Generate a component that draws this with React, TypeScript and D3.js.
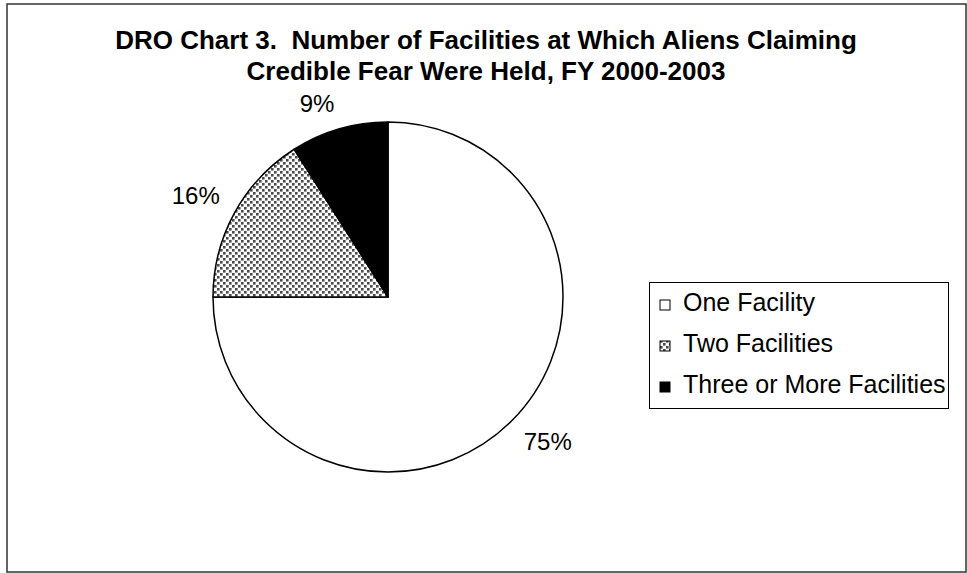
import { useEffect, useRef } from "react";
import * as d3 from "d3";

const categories = ["One Facility", "Two Facilities", "Three or More Facilities"];
const shares = [75, 16, 9];
const titleLines = [
  "DRO Chart 3.  Number of Facilities at Which Aliens Claiming",
  "Credible Fear Were Held, FY 2000-2003",
];

const W = 967;
const H = 573;
const FONT = "'Liberation Sans', Arial, sans-serif";

export default function App() {
  const svgRef = useRef<SVGSVGElement>(null);

  useEffect(() => {
    if (!svgRef.current) return;
    const svg = d3.select(svgRef.current);
    svg.selectAll("*").remove();

    // dotted fill for the middle slice
    const defs = svg.append("defs");
    const pat = defs
      .append("pattern")
      .attr("id", "dots")
      .attr("patternUnits", "userSpaceOnUse")
      .attr("width", 6)
      .attr("height", 6);
    pat.append("rect").attr("width", 6).attr("height", 6).attr("fill", "#fff");
    pat.append("rect").attr("x", 0).attr("y", 0).attr("width", 2.6).attr("height", 2.6).attr("fill", "#4a4a4a");
    pat.append("rect").attr("x", 3).attr("y", 3).attr("width", 2.6).attr("height", 2.6).attr("fill", "#4a4a4a");

    const fills = ["#fff", "url(#dots)", "#000"];

    svg.append("rect").attr("width", W).attr("height", H).attr("fill", "#fff");

    // outer frame
    svg
      .append("rect")
      .attr("x", 7)
      .attr("y", 4)
      .attr("width", 959)
      .attr("height", 568)
      .attr("fill", "none")
      .attr("stroke", "#333")
      .attr("stroke-width", 1.5);

    // title
    svg
      .append("g")
      .selectAll("text")
      .data(titleLines)
      .join("text")
      .attr("x", 486)
      .attr("y", (_, i) => 49 + i * 31)
      .attr("text-anchor", "middle")
      .attr("font-family", FONT)
      .attr("font-weight", "bold")
      .attr("font-size", 26)
      .attr("fill", "#000")
      .style("white-space", "pre")
      .text((d) => d);

    const cx = 388;
    const cy = 297;
    const r = 175;

    const pie = d3
      .pie<number>()
      .sort(null)
      .value((d) => d);
    const arcs = pie(shares);

    const arc = d3.arc<d3.PieArcDatum<number>>().innerRadius(0).outerRadius(r);

    const g = svg.append("g").attr("transform", `translate(${cx},${cy})`);

    g.selectAll("path")
      .data(arcs)
      .join("path")
      .attr("d", arc)
      .attr("fill", (_, i) => fills[i])
      .attr("stroke", "#000")
      .attr("stroke-width", 1.5)
      .attr("stroke-linejoin", "round");

    // labels: anchor point just outside the rim, then push the text box outward
    const labelR = 192;
    const labels = g
      .selectAll("text")
      .data(arcs)
      .join("text")
      .attr("text-anchor", "middle")
      .attr("dy", "0.35em")
      .attr("font-family", FONT)
      .attr("font-size", 24)
      .attr("fill", "#000")
      .text((d) => `${d.data}%`);

    labels.attr("transform", function (d) {
      const a = (d.startAngle + d.endAngle) / 2;
      const s = Math.sin(a);
      const c = Math.cos(a);
      const w = (this as SVGTextElement).getComputedTextLength();
      const h = 18;
      const x = s * labelR + Math.sign(s) * (w / 2);
      const y = -c * labelR - Math.sign(c) * (h / 2);
      return `translate(${x},${y})`;
    });

    // legend
    const legend = svg.append("g");
    legend
      .append("rect")
      .attr("x", 649.5)
      .attr("y", 282.5)
      .attr("width", 299)
      .attr("height", 126)
      .attr("fill", "#fff")
      .attr("stroke", "#000")
      .attr("stroke-width", 1);

    const item = legend
      .selectAll("g.item")
      .data(categories)
      .join("g")
      .attr("class", "item")
      .attr("transform", (_, i) => `translate(0,${311 + i * 41})`);

    item
      .append("rect")
      .attr("x", 660)
      .attr("y", -11)
      .attr("width", 10)
      .attr("height", 10)
      .attr("fill", (_, i) => fills[i])
      .attr("stroke", "#000")
      .attr("stroke-width", 1);

    item
      .append("text")
      .attr("x", 683)
      .attr("y", 0)
      .attr("font-family", FONT)
      .attr("font-size", 25)
      .attr("fill", "#000")
      .text((d) => d);
  }, []);

  return (
    <svg
      ref={svgRef}
      width={W}
      height={H}
      style={{ position: "absolute", left: 0, top: 0 }}
    />
  );
}
